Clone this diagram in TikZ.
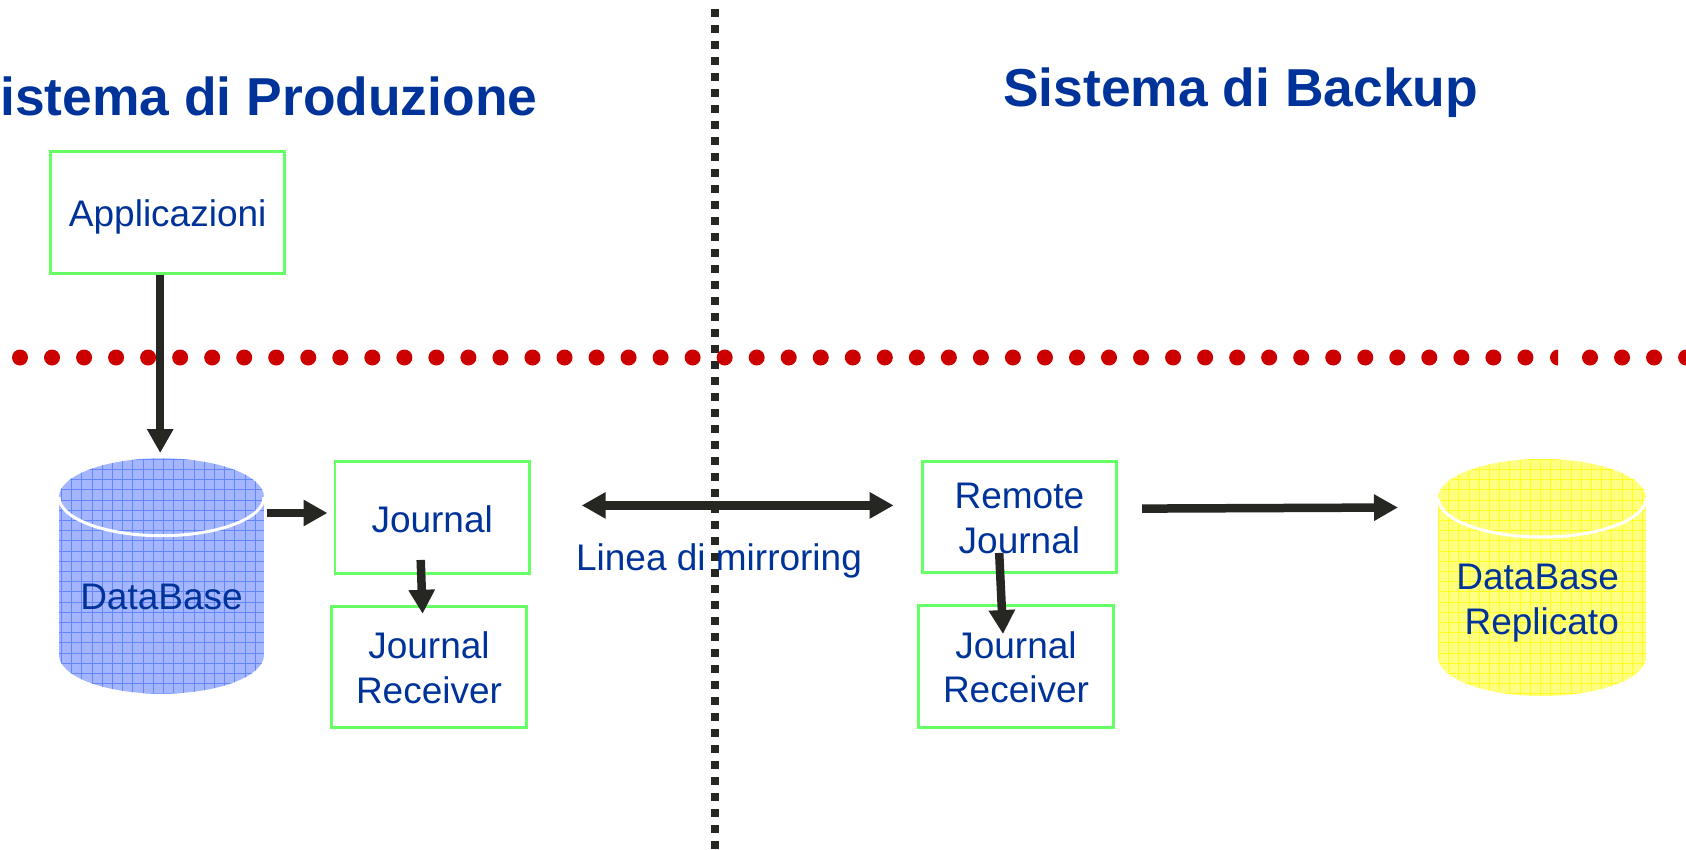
\documentclass[tikz,border=0pt]{standalone}
\usepackage{fontspec}
\setmainfont{Liberation Sans}
\usepackage{xcolor}
\usetikzlibrary{arrows.meta}
\usetikzlibrary{calc}
\definecolor{txtblue}{HTML}{003399}
\definecolor{boxgreen}{HTML}{66FF66}
\definecolor{arrowblack}{HTML}{262622}
\definecolor{dotred}{HTML}{CC0000}
\definecolor{dbblue}{HTML}{A3B6FF}
\definecolor{dbgrid}{HTML}{6486FF}
\definecolor{repyellow}{HTML}{FFFF80}
\definecolor{repgrid}{HTML}{FFFF22}
\newcommand{\dropped}[2]{\raisebox{-#1}[\height][\depth]{#2}}

\begin{document}
\begin{tikzpicture}[x=1pt, y=-1pt,
		every node/.style={text=txtblue, font=\fontsize{37}{44.5}\selectfont},
		title/.style={inner sep=0pt, font=\fontsize{53.4}{60}\selectfont\bfseries},
		str/.style={inner sep=0pt, align=center},
		block/.style={rectangle, inner sep=0pt, align=center, draw=boxgreen, line width=2.9pt, fill=white},
		arrow/.style={-{Triangle[length=24pt, width=25pt]}, line width=8.5pt, arrowblack},
		bothways/.style={{Triangle[length=24pt, width=25pt]}-{Triangle[length=24pt, width=25pt]}, line width=8.5pt, arrowblack},
		reddots/.style={dotred, line width=16pt, line cap=round, dash pattern=on 0pt off 32.03pt},
		dbgridline/.style={line width=0.6pt}]
		
		\clip (0, 0) rectangle (1686, 849);
		
		\node[title, anchor=base east] (prod) at (537.6, 115) {Sistema di Produzione};
		\node[title, anchor=base west] (back) at (1003, 106) {Sistema di Backup};
		
		% divisori
		\coordinate (vtop) at (715.4, 9);
		\coordinate (vbot) at (715.4, 849);
		\draw[arrowblack, line width=8pt, dash pattern=on 8pt off 8pt] (vtop) -- (vbot);
		
		\coordinate (r1) at (20, 357.5);
		\coordinate (r2) at (1526, 357.5);
		\coordinate (r3) at (1590, 357.5);
		\coordinate (r4) at (1700, 357.5);
		\draw[reddots] (r1) -- (r2);
		\fill[dotred] (1558, 349.5) arc[start angle=-90, end angle=-270, radius=8] -- cycle;
		\draw[reddots] (r3) -- (r4);
		
		% DataBase
		\begin{scope}
			\path[clip] (59, 497) -- (59, 655) arc[start angle=180, end angle=0, x radius=102.5, y radius=38.7] -- (264, 497) arc[start angle=0, end angle=-180, x radius=102.5, y radius=38.7] -- cycle;
			\fill[dbblue] (59, 458) rectangle (264, 694);
			\draw[dbgrid, dbgridline, step=10.2pt] (59, 458) grid (264, 694);
		\end{scope}
		\draw[white, line width=3pt] (59, 497) arc[start angle=180, end angle=0, x radius=102.5, y radius=38.7];
		\node[str] (db) at (161.5, 597) {DataBase};
		
		% DataBase Replicato
		\begin{scope}
			\path[clip] (1438, 498) -- (1438, 657) arc[start angle=180, end angle=0, x radius=104, y radius=39] -- (1646, 498) arc[start angle=0, end angle=-180, x radius=104, y radius=39] -- cycle;
			\fill[repyellow] (1438, 459) rectangle (1646, 696);
			\draw[repgrid, dbgridline, step=10.2pt] (1438, 459) grid (1646, 696);
		\end{scope}
		\draw[white, line width=3pt] (1438, 498) arc[start angle=180, end angle=0, x radius=104, y radius=39];
		\node[str, align=right] (rep) at (1537.6, 603) {DataBase\\Replicato};
		
		\node[block, minimum width=234pt, minimum height=122pt] (app) at (167.7, 212.2) {\dropped{5pt}{Applicazioni}};
		\node[block, minimum width=194.5pt, minimum height=112pt] (jour) at (432.2, 517.5) {\dropped{2pt}{Journal}};
		\node[block, minimum width=194.5pt, minimum height=120.5pt] (recv) at (429, 667) {\dropped{1pt}{Journal}\\\dropped{1pt}{Receiver}};
		\node[block, minimum width=194.5pt, minimum height=111pt] (remote) at (1019.4, 517) {\dropped{1pt}{Remote}\\\dropped{2pt}{Journal}};
		\node[block, minimum width=194.5pt, minimum height=122pt] (recvb) at (1016, 666.5) {\dropped{1pt}{Journal}\\\dropped{1pt}{Receiver}};
		
		\node[str] (mirror) at (719, 561) {Linea di mirroring};
		
		\coordinate (mleft) at (581.7, 505.4);
		\coordinate (mright) at (893.6, 505.4);
		\coordinate (dbin) at (160.2, 453);
		\coordinate (dbout) at (266.7, 513);
		\coordinate (repin) at (1398, 507.5);
		
		\draw (app.south -| dbin) edge[arrow] (dbin);
		\draw (dbout) edge[arrow] ($(dbout -| jour.west) + (-6, 0)$);
		\draw ($(jour.south) + (-11.5, -15)$) edge[arrow] ($(recv.north) + (-6.4, 8.5)$);
		\draw (mleft) edge[bothways] (mright);
		\draw ($(remote.south) + (-20.2, -21)$) edge[arrow] ($(recvb.north) + (-13, 30)$);
		\draw ($(remote.east) + (24, -8.4)$) edge[arrow] (repin);
		
	\end{tikzpicture}
\end{document}
